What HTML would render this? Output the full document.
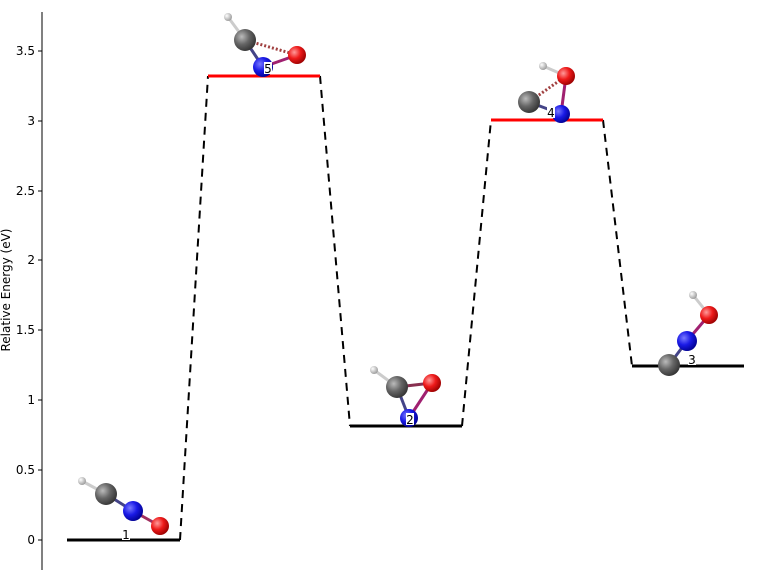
<!DOCTYPE html>
<html><head><style>body{margin:0;background:#fff}svg{display:block}text{font-family:"DejaVu Sans","Liberation Sans",sans-serif}</style></head><body>
<svg width="765" height="570" viewBox="0 0 765 570" xmlns="http://www.w3.org/2000/svg">
<defs>
<radialGradient id="gC" cx="35%" cy="35%" r="70%"><stop offset="0" stop-color="#bbb"/><stop offset="0.5" stop-color="#666"/><stop offset="1" stop-color="#333"/></radialGradient>
<radialGradient id="gN" cx="35%" cy="35%" r="70%"><stop offset="0" stop-color="#7a7aff"/><stop offset="0.5" stop-color="#1a1ae6"/><stop offset="1" stop-color="#000090"/></radialGradient>
<radialGradient id="gO" cx="35%" cy="35%" r="70%"><stop offset="0" stop-color="#ff9a9a"/><stop offset="0.5" stop-color="#ee1a1a"/><stop offset="1" stop-color="#900"/></radialGradient>
<radialGradient id="gH" cx="35%" cy="35%" r="70%"><stop offset="0" stop-color="#fff"/><stop offset="1" stop-color="#999"/></radialGradient>
</defs>
<!-- axis -->
<line x1="42" y1="12" x2="42" y2="570" stroke="#000" stroke-width="1"/>
<g stroke="#000" stroke-width="1">
<line x1="38" y1="540" x2="42" y2="540"/><line x1="38" y1="470" x2="42" y2="470"/><line x1="38" y1="400" x2="42" y2="400"/><line x1="38" y1="330" x2="42" y2="330"/><line x1="38" y1="260" x2="42" y2="260"/><line x1="38" y1="191" x2="42" y2="191"/><line x1="38" y1="121" x2="42" y2="121"/><line x1="38" y1="51" x2="42" y2="51"/>
</g>
<g font-size="12" text-anchor="end" fill="#000">
<text x="35" y="544">0</text><text x="35" y="474">0.5</text><text x="35" y="404">1</text><text x="35" y="334">1.5</text><text x="35" y="264">2</text><text x="35" y="195">2.5</text><text x="35" y="125">3</text><text x="35" y="55">3.5</text>
</g>
<text x="10" y="290" font-size="12" text-anchor="middle" transform="rotate(-90 10 290)">Relative Energy (eV)</text>
<!-- dashed -->
<g stroke="#000" stroke-width="2" stroke-dasharray="8,6" fill="none">
<line x1="180" y1="540" x2="208" y2="76"/><line x1="320" y1="76" x2="350" y2="426"/><line x1="462" y1="426" x2="491" y2="120"/><line x1="603" y1="120" x2="632" y2="366"/>
</g>
<!-- levels -->
<g stroke-width="3">
<line x1="67" y1="540" x2="180" y2="540" stroke="#000"/>
<line x1="208" y1="76" x2="320" y2="76" stroke="#f00"/>
<line x1="350" y1="426" x2="462" y2="426" stroke="#000"/>
<line x1="491" y1="120" x2="603" y2="120" stroke="#f00"/>
<line x1="632" y1="366" x2="744" y2="366" stroke="#000"/>
</g>
<!-- molecule 1 -->
<g stroke-width="3">
<line x1="82" y1="481" x2="106" y2="494" stroke="#ccc"/>
<line x1="106" y1="494" x2="133" y2="511" stroke="#448"/>
<line x1="133" y1="511" x2="160" y2="526" stroke="#a03060"/>
</g>
<circle cx="82" cy="481" r="4" fill="url(#gH)"/><circle cx="106" cy="494" r="11" fill="url(#gC)"/><circle cx="133" cy="511" r="10" fill="url(#gN)"/><circle cx="160" cy="526" r="9" fill="url(#gO)"/>
<!-- molecule 5 -->
<line x1="228" y1="17" x2="245" y2="40" stroke="#ccc" stroke-width="3"/>
<line x1="245" y1="40" x2="263" y2="67" stroke="#448" stroke-width="3"/>
<line x1="263" y1="67" x2="297" y2="55" stroke="#a02070" stroke-width="3"/>
<line x1="245" y1="40" x2="297" y2="55" stroke="#a04040" stroke-width="3" stroke-dasharray="2,2"/>
<circle cx="228" cy="17" r="4" fill="url(#gH)"/><circle cx="245" cy="40" r="11" fill="url(#gC)"/><circle cx="263" cy="67" r="10" fill="url(#gN)"/><circle cx="297" cy="55" r="9" fill="url(#gO)"/>
<!-- molecule 2 -->
<line x1="374" y1="370" x2="397" y2="387" stroke="#ccc" stroke-width="3"/>
<line x1="397" y1="387" x2="409" y2="418" stroke="#448" stroke-width="3"/>
<line x1="397" y1="387" x2="432" y2="383" stroke="#883050" stroke-width="3"/>
<line x1="409" y1="418" x2="432" y2="383" stroke="#a02070" stroke-width="3"/>
<circle cx="374" cy="370" r="4" fill="url(#gH)"/><circle cx="409" cy="418" r="9" fill="url(#gN)"/><circle cx="397" cy="387" r="11" fill="url(#gC)"/><circle cx="432" cy="383" r="9" fill="url(#gO)"/>
<!-- molecule 4 -->
<line x1="543" y1="66" x2="566" y2="76" stroke="#ccc" stroke-width="3"/>
<line x1="566" y1="76" x2="561" y2="114" stroke="#a02070" stroke-width="3"/>
<line x1="529" y1="102" x2="561" y2="114" stroke="#448" stroke-width="3"/>
<line x1="529" y1="102" x2="566" y2="76" stroke="#a04040" stroke-width="3" stroke-dasharray="2,2"/>
<circle cx="543" cy="66" r="4" fill="url(#gH)"/><circle cx="566" cy="76" r="9" fill="url(#gO)"/><circle cx="561" cy="114" r="9" fill="url(#gN)"/><circle cx="529" cy="102" r="11" fill="url(#gC)"/>
<!-- molecule 3 -->
<line x1="693" y1="295" x2="709" y2="315" stroke="#ccc" stroke-width="3"/>
<line x1="709" y1="315" x2="687" y2="341" stroke="#a02070" stroke-width="3"/>
<line x1="687" y1="341" x2="669" y2="365" stroke="#448" stroke-width="3"/>
<circle cx="693" cy="295" r="4" fill="url(#gH)"/><circle cx="709" cy="315" r="9" fill="url(#gO)"/><circle cx="687" cy="341" r="10" fill="url(#gN)"/><circle cx="669" cy="365" r="11" fill="url(#gC)"/>
<!-- labels -->
<g font-size="12" text-anchor="middle" fill="#000">
<rect x="122" y="528" width="8" height="12" fill="#fff"/><text x="126" y="539">1</text>
<rect x="264" y="62" width="8" height="12" fill="#fff"/><text x="268" y="73">5</text>
<rect x="406" y="413" width="8" height="12" fill="#fff"/><text x="410" y="424">2</text>
<rect x="547" y="106" width="8" height="12" fill="#fff"/><text x="551" y="117">4</text>
<rect x="688" y="353" width="8" height="12" fill="#fff"/><text x="692" y="364">3</text>
</g>
</svg>
</body></html>
